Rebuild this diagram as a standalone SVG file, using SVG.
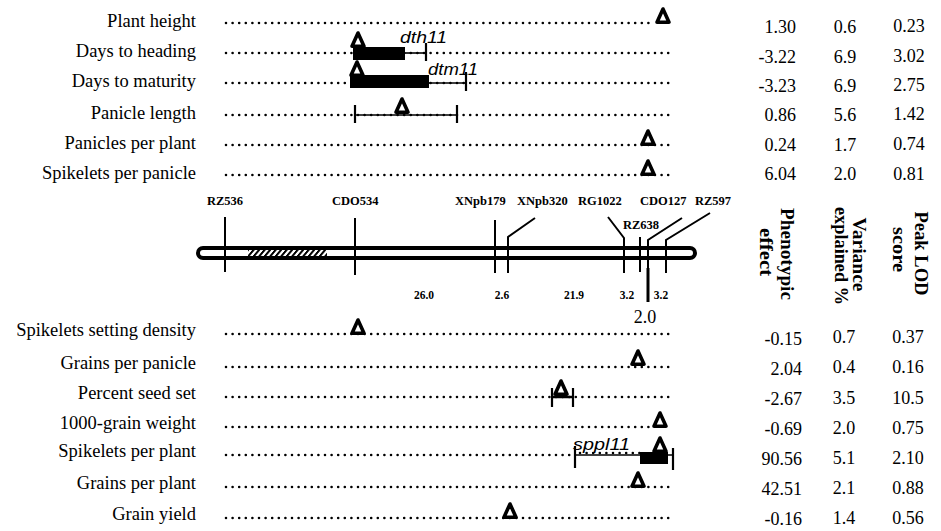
<svg xmlns="http://www.w3.org/2000/svg" xmlns:xlink="http://www.w3.org/1999/xlink" width="941" height="531" viewBox="0 0 941 531">
<style>
.lbl{font-family:"Liberation Serif","Times New Roman",serif;font-size:18.5px;fill:#000;text-anchor:end}
.val{font-family:"Liberation Serif","Times New Roman",serif;font-size:18px;fill:#000}
.pe{text-anchor:end}
.mid{text-anchor:middle}
.hdr{font-family:"Liberation Serif","Times New Roman",serif;font-size:18px;font-weight:bold;fill:#000;text-anchor:middle}
.mk{font-family:"Liberation Serif","Times New Roman",serif;font-size:12.5px;font-weight:bold;fill:#000}
.dist{font-family:"Liberation Serif","Times New Roman",serif;font-size:11.5px;font-weight:bold;fill:#000;text-anchor:middle}
.gene{font-family:"Liberation Sans",Arial,sans-serif;font-size:17px;font-style:italic;fill:#000}
.dot{stroke:#000;stroke-width:2.6;stroke-dasharray:0 6.6;stroke-linecap:round;fill:none}
.ln{stroke:#000;stroke-width:1.6;fill:none}
.tk{stroke:#000;stroke-width:2.2;fill:none}
.bar{fill:#000}
.chr{stroke:#000;stroke-width:2;fill:none}
</style>
<defs>
<path id="tri" d="M0,-15 L6,-1.8 L-6,-1.8 Z" fill="#fff" stroke="#000" stroke-width="3.6" stroke-linejoin="round"/>
<pattern id="hatch" width="5.5" height="8" patternUnits="userSpaceOnUse" patternTransform="skewX(-40)">
<rect x="0" y="0" width="2.6" height="8" fill="#000"/>
</pattern>
</defs>

<!-- top traits -->
<g id="plant-height">
<text class="lbl" x="196" y="26.5">Plant height</text>
<line class="dot" x1="226" y1="23" x2="655" y2="23"/>
<use href="#tri" x="663" y="24"/>
</g>
<g id="days-to-heading">
<text class="lbl" x="196" y="56.5">Days to heading</text>
<line class="dot" x1="226" y1="53" x2="670" y2="53"/>
<use href="#tri" x="358" y="48"/>
<rect class="bar" x="353" y="47" width="52" height="13"/>
<line class="ln" x1="405" y1="53" x2="426" y2="53"/>
<line class="tk" x1="426" y1="43" x2="426" y2="61"/>
<text class="gene" x="400" y="43" textLength="47" lengthAdjust="spacingAndGlyphs">dth11</text>
</g>
<g id="days-to-maturity">
<text class="lbl" x="196" y="86.5">Days to maturity</text>
<line class="dot" x1="226" y1="83" x2="670" y2="83"/>
<use href="#tri" x="357" y="77"/>
<rect class="bar" x="350" y="75" width="79" height="13"/>
<line class="ln" x1="429" y1="83" x2="466" y2="83"/>
<line class="tk" x1="466" y1="72" x2="466" y2="91"/>
<text class="gene" x="428" y="75" textLength="50" lengthAdjust="spacingAndGlyphs">dtm11</text>
</g>
<g id="panicle-length">
<text class="lbl" x="196" y="118.5">Panicle length</text>
<line class="dot" x1="226" y1="115" x2="670" y2="115"/>
<line class="ln" x1="355" y1="115" x2="457" y2="115"/>
<line class="tk" x1="355" y1="105" x2="355" y2="123"/>
<line class="tk" x1="457" y1="105" x2="457" y2="123"/>
<use href="#tri" x="402" y="114"/>
</g>
<g id="panicles-per-plant">
<text class="lbl" x="196" y="148.5">Panicles per plant</text>
<line class="dot" x1="226" y1="145" x2="670" y2="145"/>
<use href="#tri" x="648" y="146"/>
</g>
<g id="spikelets-per-panicle">
<text class="lbl" x="196" y="178.5">Spikelets per panicle</text>
<line class="dot" x1="226" y1="175" x2="670" y2="175"/>
<use href="#tri" x="648" y="176"/>
</g>

<!-- chromosome -->
<g id="chromosome">
<rect x="198" y="248" width="497" height="10" rx="5" fill="#fff" stroke="#000" stroke-width="4"/>
<rect x="248" y="250" width="79" height="6" fill="url(#hatch)"/>
<line class="chr" x1="225" y1="217" x2="225" y2="272"/>
<line class="chr" x1="355" y1="218" x2="355" y2="275"/>
<line class="chr" x1="495" y1="220" x2="495" y2="273"/>
<polyline class="chr" points="535,218 508,237 508,273"/>
<polyline class="chr" points="608,217 624,238 624,273"/>
<line class="chr" x1="640" y1="237" x2="640" y2="272"/>
<polyline class="chr" points="682,218 648,240 648,275"/>
<line x1="648" y1="268" x2="648" y2="302" stroke="#000" stroke-width="3"/>
<polyline class="chr" points="710,213 666,240 666,273"/>
<text class="mk" x="207" y="205">RZ536</text>
<text class="mk" x="332" y="205">CDO534</text>
<text class="mk" x="455" y="205">XNpb179</text>
<text class="mk" x="517" y="205">XNpb320</text>
<text class="mk" x="578" y="205">RG1022</text>
<text class="mk" x="640" y="205">CDO127</text>
<text class="mk" x="695" y="205">RZ597</text>
<text class="mk" x="623" y="229">RZ638</text>
<text class="dist" x="424" y="299">26.0</text>
<text class="dist" x="502" y="299">2.6</text>
<text class="dist" x="574" y="299">21.9</text>
<text class="dist" x="627" y="299">3.2</text>
<text class="dist" x="661" y="299">3.2</text>
<text class="val mid" x="645" y="323">2.0</text>
</g>

<!-- headers -->
<g id="headers">
<text class="hdr" transform="translate(781,254) rotate(90)" textLength="92" lengthAdjust="spacingAndGlyphs">Phenotypic</text>
<text class="hdr" transform="translate(760,252) rotate(90)" textLength="48" lengthAdjust="spacingAndGlyphs">effect</text>
<text class="hdr" transform="translate(853,254.5) rotate(90)" textLength="74" lengthAdjust="spacingAndGlyphs">Variance</text>
<text class="hdr" transform="translate(835,256) rotate(90)" textLength="98" lengthAdjust="spacingAndGlyphs">explained %</text>
<text class="hdr" transform="translate(915,253.5) rotate(90)" textLength="84" lengthAdjust="spacingAndGlyphs">Peak LOD</text>
<text class="hdr" transform="translate(893,249.5) rotate(90)" textLength="45" lengthAdjust="spacingAndGlyphs">score</text>
</g>

<!-- bottom traits -->
<g id="spikelets-setting-density">
<text class="lbl" x="196" y="336">Spikelets setting density</text>
<line class="dot" x1="226" y1="334" x2="670" y2="334"/>
<use href="#tri" x="358" y="335"/>
</g>
<g id="grains-per-panicle">
<text class="lbl" x="196" y="369">Grains per panicle</text>
<line class="dot" x1="226" y1="367" x2="670" y2="367"/>
<use href="#tri" x="638" y="366"/>
</g>
<g id="percent-seed-set">
<text class="lbl" x="196" y="399">Percent seed set</text>
<line class="dot" x1="226" y1="397" x2="670" y2="397"/>
<line x1="552" y1="397" x2="573" y2="397" stroke="#000" stroke-width="2.5"/>
<line class="tk" x1="552" y1="388" x2="552" y2="407" stroke-width="3"/>
<line class="tk" x1="573" y1="388" x2="573" y2="407"/>
<use href="#tri" x="561" y="396"/>
</g>
<g id="grain-weight">
<text class="lbl" x="196" y="429">1000-grain weight</text>
<line class="dot" x1="226" y1="427" x2="655" y2="427"/>
<use href="#tri" x="660" y="428"/>
</g>
<g id="spikelets-per-plant">
<text class="lbl" x="196" y="457">Spikelets per plant</text>
<line class="dot" x1="226" y1="455" x2="575" y2="455"/>
<line class="ln" x1="575" y1="455" x2="673" y2="455"/>
<line class="dot" x1="580" y1="453" x2="640" y2="453"/>
<line class="tk" x1="575" y1="446" x2="575" y2="468"/>
<rect class="bar" x="640" y="452" width="28" height="12"/>
<line class="tk" x1="673" y1="448" x2="673" y2="470"/>
<use href="#tri" x="660" y="453"/>
<text class="gene" x="573" y="450" textLength="57" lengthAdjust="spacingAndGlyphs">sppl11</text>
</g>
<g id="grains-per-plant">
<text class="lbl" x="196" y="489">Grains per plant</text>
<line class="dot" x1="226" y1="487" x2="670" y2="487"/>
<use href="#tri" x="638" y="488"/>
</g>
<g id="grain-yield">
<text class="lbl" x="196" y="520">Grain yield</text>
<line class="dot" x1="226" y1="518" x2="670" y2="518"/>
<use href="#tri" x="510" y="519"/>
</g>

<!-- values -->
<g id="values">
<text class="val pe" x="796" y="33">1.30</text><text class="val mid" x="845" y="33">0.6</text><text class="val mid" x="909" y="32">0.23</text>
<text class="val pe" x="796" y="63">-3.22</text><text class="val mid" x="845" y="63">6.9</text><text class="val mid" x="909" y="62">3.02</text>
<text class="val pe" x="796" y="92">-3.23</text><text class="val mid" x="845" y="92">6.9</text><text class="val mid" x="909" y="91">2.75</text>
<text class="val pe" x="796" y="121">0.86</text><text class="val mid" x="845" y="121">5.6</text><text class="val mid" x="909" y="120">1.42</text>
<text class="val pe" x="796" y="151">0.24</text><text class="val mid" x="845" y="151">1.7</text><text class="val mid" x="909" y="150">0.74</text>
<text class="val pe" x="796" y="180">6.04</text><text class="val mid" x="845" y="180">2.0</text><text class="val mid" x="909" y="180">0.81</text>

<text class="val pe" x="802" y="345">-0.15</text><text class="val mid" x="844" y="343">0.7</text><text class="val mid" x="908" y="343">0.37</text>
<text class="val pe" x="802" y="375">2.04</text><text class="val mid" x="844" y="373">0.4</text><text class="val mid" x="908" y="373">0.16</text>
<text class="val pe" x="802" y="405">-2.67</text><text class="val mid" x="844" y="404">3.5</text><text class="val mid" x="908" y="404">10.5</text>
<text class="val pe" x="802" y="435">-0.69</text><text class="val mid" x="844" y="434">2.0</text><text class="val mid" x="908" y="434">0.75</text>
<text class="val pe" x="802" y="465">90.56</text><text class="val mid" x="844" y="464">5.1</text><text class="val mid" x="908" y="464">2.10</text>
<text class="val pe" x="802" y="495">42.51</text><text class="val mid" x="844" y="494">2.1</text><text class="val mid" x="908" y="494">0.88</text>
<text class="val pe" x="802" y="525">-0.16</text><text class="val mid" x="844" y="524">1.4</text><text class="val mid" x="908" y="524">0.56</text>
</g>
</svg>
